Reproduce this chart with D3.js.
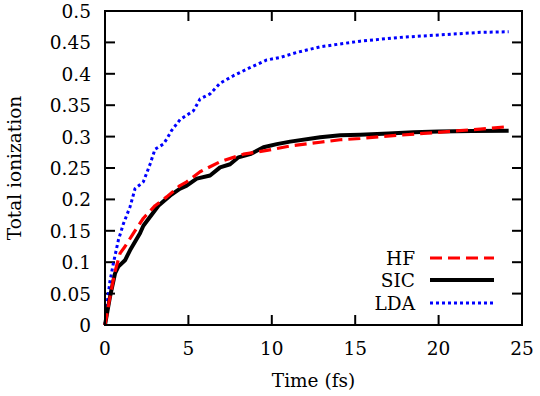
<!DOCTYPE html>
<html>
<head>
<meta charset="utf-8">
<script src="https://cdn.jsdelivr.net/npm/d3@7"></script>
<style>
  body { margin: 0; background: #fff; }
  svg { display: block; }
</style>
</head>
<body>
<svg id="chart" width="540" height="396"></svg>
<script>
// values
let hfTime = [0, 0.3, 0.6, 0.9, 1.2, 1.7, 2.3, 3.0, 3.7, 4.5, 4.9, 5.7, 6.9, 8.3, 9.7, 11.1, 12.9, 14.1, 15.3, 17.5, 19.1, 21, 22.5, 24.2];
let hfVal  = [0, 0.045, 0.085, 0.114, 0.125, 0.146, 0.17, 0.19, 0.204, 0.222, 0.228, 0.244, 0.26, 0.272, 0.278, 0.285, 0.291, 0.295, 0.297, 0.302, 0.305, 0.309, 0.312, 0.316];

let sicTime = [0, 0.3, 0.6, 0.8, 1.2, 1.5, 2.1, 2.3, 3.2, 3.9, 4.5, 4.9, 5.5, 6.3, 6.9, 7.5, 8.0, 8.7, 9.5, 10.3, 11.1, 12.9, 14.1, 15.3, 17, 18.5, 20, 22, 24.2];
let sicVal  = [0, 0.045, 0.082, 0.093, 0.103, 0.119, 0.146, 0.158, 0.19, 0.206, 0.217, 0.222, 0.233, 0.238, 0.251, 0.256, 0.267, 0.272, 0.283, 0.288, 0.292, 0.299, 0.302, 0.303, 0.305, 0.307, 0.308, 0.309, 0.3095];

let ldaTime = [0, 0.1, 0.3, 0.5, 0.8, 1.1, 1.5, 1.8, 2.3, 2.7, 3.0, 3.5, 3.7, 4.0, 4.5, 5.3, 5.7, 6.3, 6.9, 7.7, 8.7, 9.7, 10.5, 11.5, 12.9, 15.3, 17.7, 20.1, 22.5, 24.2];
let ldaVal  = [0, 0.029, 0.07, 0.098, 0.135, 0.161, 0.188, 0.217, 0.228, 0.256, 0.28, 0.288, 0.296, 0.31, 0.327, 0.341, 0.36, 0.368, 0.385, 0.397, 0.41, 0.422, 0.426, 0.434, 0.443, 0.452, 0.458, 0.462, 0.466, 0.467];

let xTicks = [0, 5, 10, 15, 20, 25];
let yTicks = [0, 0.05, 0.1, 0.15, 0.2, 0.25, 0.3, 0.35, 0.4, 0.45, 0.5];

let seriesNames = ["HF", "SIC", "LDA"];

let svg = d3.select("#chart")
    .style("font-family", "'DejaVu Serif', serif")
    .style("font-size", "18.5px");

let pLeft = 105, pRight = 522, pTop = 11, pBottom = 325;

let x = d3.scaleLinear().domain([0, 25]).range([pLeft, pRight]);
let y = d3.scaleLinear().domain([0, 0.5]).range([pBottom, pTop]);

// ticks, all pointing inward, mirrored on top and right
let tickLen = 10;
let axis_g = svg.append("g").attr("stroke", "#000").attr("stroke-width", 2);

axis_g.selectAll(".xb").data(xTicks.slice(1, -1)).enter().append("line")
    .attr("x1", d => x(d)).attr("x2", d => x(d))
    .attr("y1", pBottom).attr("y2", pBottom - tickLen);
axis_g.selectAll(".xt").data(xTicks.slice(1, -1)).enter().append("line")
    .attr("x1", d => x(d)).attr("x2", d => x(d))
    .attr("y1", pTop).attr("y2", pTop + tickLen);
axis_g.selectAll(".yl").data(yTicks.slice(1, -1)).enter().append("line")
    .attr("y1", d => y(d)).attr("y2", d => y(d))
    .attr("x1", pLeft).attr("x2", pLeft + tickLen);
axis_g.selectAll(".yr").data(yTicks.slice(1, -1)).enter().append("line")
    .attr("y1", d => y(d)).attr("y2", d => y(d))
    .attr("x1", pRight).attr("x2", pRight - tickLen);

// tick labels
svg.append("g").selectAll("text").data(xTicks).enter().append("text")
    .attr("x", d => x(d)).attr("y", 355)
    .attr("text-anchor", "middle")
    .text(d => d);
svg.append("g").selectAll("text").data(yTicks).enter().append("text")
    .attr("x", 91).attr("y", d => y(d) + 7)
    .attr("text-anchor", "end")
    .text(d => d);

// axis titles
svg.append("text")
    .attr("x", (pLeft + pRight) / 2).attr("y", 387)
    .attr("text-anchor", "middle")
    .text("Time (fs)");
svg.append("text")
    .attr("transform", "translate(21," + ((pTop + pBottom) / 2) + ") rotate(-90)")
    .attr("text-anchor", "middle")
    .text("Total ionization");

// curves
let line = d3.line()
    .x(d => x(d[0]))
    .y(d => y(d[1]));

let series = [
  { name: "HF",  pts: d3.zip(hfTime, hfVal),   color: "#ff0000", width: 3.2, dash: "12,6" },
  { name: "SIC", pts: d3.zip(sicTime, sicVal), color: "#000000", width: 4,   dash: null },
  { name: "LDA", pts: d3.zip(ldaTime, ldaVal), color: "#0000ff", width: 3,   dash: "3,3" }
];

let lines_g = svg.append("g").attr("fill", "none");
// draw LDA first, then SIC, HF on top of SIC where they overlap
[series[2], series[1], series[0]].forEach(function(s) {
  lines_g.append("path")
      .attr("d", line(s.pts))
      .attr("stroke", s.color)
      .attr("stroke-width", s.width)
      .attr("stroke-dasharray", s.dash)
      .attr("stroke-linejoin", "round");
});

// frame
svg.append("rect")
    .attr("x", pLeft).attr("y", pTop)
    .attr("width", pRight - pLeft).attr("height", pBottom - pTop)
    .attr("fill", "none").attr("stroke", "#000").attr("stroke-width", 2);

// legend
let legendY = [258, 280, 303];
let legend_g = svg.append("g");
series.forEach(function(s, i) {
  legend_g.append("text")
      .attr("x", 415).attr("y", legendY[i] + 7)
      .attr("text-anchor", "end")
      .text(s.name);
  legend_g.append("line")
      .attr("x1", 430).attr("x2", 494)
      .attr("y1", legendY[i]).attr("y2", legendY[i])
      .attr("stroke", s.color)
      .attr("stroke-width", s.width)
      .attr("stroke-dasharray", s.dash);
});
</script>
</body>
</html>
